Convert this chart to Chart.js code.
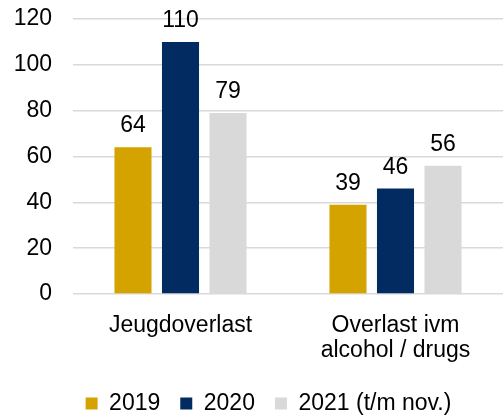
<!DOCTYPE html>
<html>
<head>
<meta charset="utf-8">
<script src="https://cdn.jsdelivr.net/npm/chart.js@4/dist/chart.umd.min.js"></script>
<style>
  html, body { margin: 0; padding: 0; background: #fff; }
  #wrap { width: 504px; height: 415px; }
</style>
</head>
<body>
<div id="wrap"><canvas id="myChart" width="504" height="415"></canvas></div>
<script>
  const categories = [
    'Jeugdoverlast',
    ['Overlast ivm', 'alcohol / drugs'],
  ];
  const values2019 = [64, 39];
  const values2020 = [110, 46];
  const values2021 = [79, 56];
  const seriesNames = ['2019', '2020', '2021 (t/m nov.)'];
  const yTicks = [0, 20, 40, 60, 80, 100, 120];

  Chart.defaults.font.family = '"Liberation Sans", Arial, sans-serif';
  Chart.defaults.font.size = 23;
  Chart.defaults.color = '#000';

  // draw the value above each bar
  const valueLabels = {
    id: 'valueLabels',
    afterDatasetsDraw(chart) {
      const ctx = chart.ctx;
      ctx.save();
      ctx.font = '23px "Liberation Sans", Arial, sans-serif';
      ctx.fillStyle = '#000';
      ctx.textAlign = 'center';
      ctx.textBaseline = 'alphabetic';
      chart.data.datasets.forEach((ds, i) => {
        chart.getDatasetMeta(i).data.forEach((bar, j) => {
          ctx.fillText(ds.data[j], bar.x, bar.y - 15);
        });
      });
      ctx.restore();
    }
  };

  // legend sits a bit right of centre in the original
  const legendShift = {
    id: 'legendShift',
    afterLayout(chart) {
      if (chart.legend) {
        chart.legend.left += 10;
        chart.legend.right += 10;
      }
    }
  };

  const data = {
    labels: categories,
    datasets: [{
      label: seriesNames[0],
      data: values2019,
      backgroundColor: '#D4A300',
    }, {
      label: seriesNames[1],
      data: values2020,
      backgroundColor: '#012B61',
    }, {
      label: seriesNames[2],
      data: values2021,
      backgroundColor: '#D9D9D9',
    }]
  };

  const config = {
    type: 'bar',
    data,
    options: {
      responsive: false,
      animation: false,
      categoryPercentage: 0.663,
      barPercentage: 0.78,
      layout: {
        padding: { top: 19, right: 1, left: 14, bottom: -10 }
      },
      scales: {
        x: {
          grid: { display: false },
          border: { display: false },
          ticks: { padding: 11, font: { size: 23, lineHeight: 1.09 } },
          afterFit(axis) { axis.height = 78; }
        },
        y: {
          min: 0,
          max: 120,
          afterBuildTicks(axis) {
            axis.ticks = yTicks.map(v => ({ value: v }));
          },
          grid: { color: '#D9D9D9', lineWidth: 1.5, drawTicks: false },
          border: { display: false },
          ticks: { padding: 21 },
          afterFit(axis) {
            axis.width = 59;
            axis.paddingTop = 0;
            axis.paddingBottom = 0;
          }
        }
      },
      plugins: {
        legend: {
          position: 'bottom',
          labels: {
            boxWidth: 12,
            boxHeight: 12,
            padding: 20,
            font: { size: 23 }
          }
        },
        tooltip: { enabled: false }
      }
    },
    plugins: [valueLabels, legendShift]
  };

  var myChart = new Chart(
    document.getElementById('myChart'),
    config
  );
</script>
</body>
</html>
